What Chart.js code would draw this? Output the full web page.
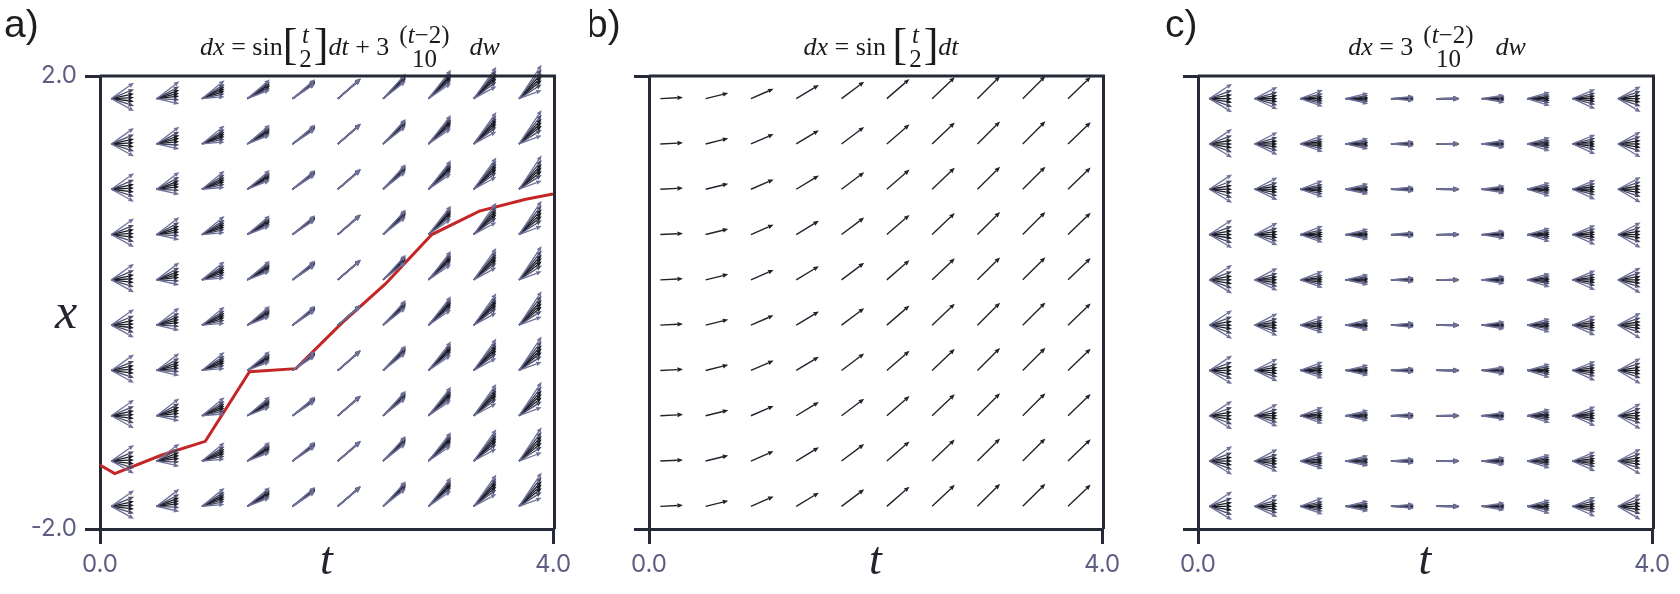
<!DOCTYPE html>
<html>
<head>
<meta charset="utf-8">
<script src="https://cdn.jsdelivr.net/npm/chart.js@4.4.1/dist/chart.umd.min.js"></script>
<style>
  html, body { margin: 0; padding: 0; background: #fff; }
  #wrap { position: relative; width: 1680px; height: 594px; overflow: hidden; }
  .panel { position: absolute; top: 0; height: 594px; }
</style>
</head>
<body>
<div id="wrap">
  <div class="panel" style="left:0;width:590px"><canvas id="chartA"></canvas></div>
  <div class="panel" style="left:590px;width:540px"><canvas id="chartB"></canvas></div>
  <div class="panel" style="left:1130px;width:550px"><canvas id="chartC"></canvas></div>
</div>
<script>
// grid of arrow tails (t, x)
const tGrid = [0.1, 0.5, 0.9, 1.3, 1.7, 2.1, 2.5, 2.9, 3.3, 3.7];
const xGrid = [-1.8, -1.4, -1.0, -0.6, -0.2, 0.2, 0.6, 1.0, 1.4, 1.8];
const stepDt = 0.2;
// drift sin(t/2) and diffusion 3(t-2)/10 read per column
const drift = [0.05, 0.247, 0.435, 0.605, 0.751, 0.867, 0.949, 0.992, 0.997, 0.961];
const diffusion = [-0.57, -0.45, -0.33, -0.21, -0.09, 0.03, 0.15, 0.27, 0.39, 0.51];
// noise increments drawn at every grid point
const dWSamples = [-0.23, -0.13, -0.06, 0.0, 0.06, 0.13, 0.21];
// sample path (red line) in panel a
const pathT = [0.0, 0.13, 0.54, 0.93, 1.32, 1.73, 2.13, 2.52, 2.93, 3.35, 3.76, 4.0];
const pathX = [-1.435, -1.511, -1.349, -1.226, -0.612, -0.584, -0.186, 0.164, 0.600, 0.807, 0.911, 0.959];
const xTicks = [0, 4];
const yTicks = [-2, 2];

const axisColor = '#262a36';
const tickColor = '#5d5e82';
const serif = '"Liberation Serif", "DejaVu Serif", serif';
const MAIN = 26, FRAC = 25, BR = 44;

Chart.defaults.font.family = 'Inter';

function drawArrow(ctx, x0, y0, x1, y1, color, lw) {
  const dx = x1 - x0, dy = y1 - y0;
  const len = Math.hypot(dx, dy);
  const ux = dx / len, uy = dy / len;
  const hl = 5.5, hw = 2.3;
  const bx = x1 - ux * hl, by = y1 - uy * hl;
  ctx.strokeStyle = color;
  ctx.fillStyle = color;
  ctx.lineWidth = lw;
  ctx.beginPath();
  ctx.moveTo(x0, y0);
  ctx.lineTo(bx, by);
  ctx.stroke();
  ctx.beginPath();
  ctx.moveTo(x1, y1);
  ctx.lineTo(bx - uy * hw, by + ux * hw);
  ctx.lineTo(bx + uy * hw, by - ux * hw);
  ctx.closePath();
  ctx.fill();
}

function fontStr(it, size) { return (it ? 'italic ' : '') + size + 'px ' + serif; }

function segWidth(ctx, segs, size) {
  let w = 0;
  for (const [s, it] of segs) { ctx.font = fontStr(it, size); w += ctx.measureText(s).width; }
  return w;
}
function drawSegs(ctx, segs, size, x, y) {
  for (const [s, it] of segs) {
    ctx.font = fontStr(it, size);
    ctx.fillText(s, x, y);
    x += ctx.measureText(s).width;
  }
}
function itemWidth(ctx, item) {
  if (item.gap) return item.gap;
  if (item.br) { ctx.font = fontStr(false, BR); return ctx.measureText(item.br).width; }
  if (item.num) return Math.max(segWidth(ctx, item.num, FRAC), segWidth(ctx, item.den, FRAC)) + 4;
  return segWidth(ctx, item.segs, MAIN);
}
function drawFormula(ctx, items, cx) {
  const widths = items.map(it => itemWidth(ctx, it));
  let x = cx - widths.reduce((a, b) => a + b, 0) / 2;
  ctx.fillStyle = '#1b1b1f';
  ctx.textAlign = 'left';
  ctx.textBaseline = 'alphabetic';
  items.forEach((item, i) => {
    const w = widths[i];
    if (item.br) {
      ctx.font = fontStr(false, BR);
      ctx.fillText(item.br, x, 59);
    } else if (item.num) {
      const nw = segWidth(ctx, item.num, FRAC), dw = segWidth(ctx, item.den, FRAC);
      drawSegs(ctx, item.num, FRAC, x + (w - nw) / 2, 43);
      drawSegs(ctx, item.den, FRAC, x + (w - dw) / 2, 67);
    } else if (item.segs) {
      drawSegs(ctx, item.segs, MAIN, x, 55);
    }
    x += w;
  });
}

const formulas = {
  a: [
    { segs: [['dx', true], [' = sin', false]] },
    { br: '[' }, { num: [['t', true]], den: [['2', false]] }, { br: ']' },
    { segs: [['dt', true], [' + 3', false]] }, { gap: 8 },
    { num: [['(', false], ['t', true], ['\u22122)', false]], den: [['10', false]] },
    { gap: 18 }, { segs: [['dw', true]] }
  ],
  b: [
    { segs: [['dx', true], [' = sin ', false]] },
    { br: '[' }, { num: [['t', true]], den: [['2', false]] }, { br: ']' },
    { segs: [['dt', true]] }
  ],
  c: [
    { segs: [['dx', true], [' = 3', false]] }, { gap: 8 },
    { num: [['(', false], ['t', true], ['\u22122)', false]], den: [['10', false]] },
    { gap: 20 }, { segs: [['dw', true]] }
  ]
};

// colours of the noise samples: outer light, inner dark
const sampleStyle = ['#6f7199', '#484a68', '#1c1c28', '#1c1c28', '#1c1c28', '#484a68', '#6f7199'];
const drawOrder = [2, 3, 4, 1, 5, 0, 6];

const quiverPlugin = {
  id: 'quiver',
  afterDatasetsDraw(chart) {
    const o = chart.options.plugins.quiver;
    const ctx = chart.ctx, xs = chart.scales.x, ys = chart.scales.y;
    const { left, right, top, bottom } = chart.chartArea;
    ctx.save();
    tGrid.forEach((t, i) => {
      xGrid.forEach(xv => {
        const px0 = xs.getPixelForValue(t), py0 = ys.getPixelForValue(xv);
        const px1 = xs.getPixelForValue(t + stepDt);
        if (o.mode === 'b') {
          drawArrow(ctx, px0, py0, px1, ys.getPixelForValue(xv + stepDt * drift[i]), '#20232c', 1.4);
          return;
        }
        const base = o.mode === 'a' ? stepDt * drift[i] : 0;
        drawOrder.forEach(k => {
          const py1 = ys.getPixelForValue(xv + base + diffusion[i] * dWSamples[k]);
          drawArrow(ctx, px0, py0, px1, py1, sampleStyle[k], 1.3);
        });
      });
    });
    // top and right spines
    ctx.strokeStyle = axisColor;
    ctx.lineWidth = 3;
    ctx.beginPath();
    ctx.moveTo(left, top);
    ctx.lineTo(right + 1.5, top);
    ctx.lineTo(right + 1.5, bottom);
    ctx.stroke();
    ctx.restore();
  },
  afterDraw(chart) {
    const o = chart.options.plugins.quiver;
    const ctx = chart.ctx;
    const cx = (chart.chartArea.left + chart.chartArea.right) / 2;
    ctx.save();
    ctx.fillStyle = '#1e1e22';
    ctx.font = '39px "Liberation Sans", Arial, sans-serif';
    ctx.textAlign = 'left';
    ctx.textBaseline = 'alphabetic';
    ctx.fillText(o.mode + ')', o.letterX, 37);
    ctx.fillStyle = '#23252e';
    ctx.textAlign = 'center';
    ctx.font = 'italic 46px ' + serif;
    ctx.fillText('t', cx, 574);
    if (o.mode === 'a') {
      ctx.font = 'italic 50px ' + serif;
      ctx.fillText('x', 66, 328);
    }
    drawFormula(ctx, formulas[o.mode], o.titleX);
    ctx.restore();
  }
};

function makeScales(yWidth, showY) {
  return {
    x: {
      type: 'linear', min: 0, max: 4,
      afterBuildTicks: s => { s.ticks = xTicks.map(v => ({ value: v })); },
      afterFit: s => { s.height = 594 - 529; },
      ticks: { callback: v => v.toFixed(1), font: { size: 24 }, color: tickColor, padding: 6, maxRotation: 0, autoSkip: false },
      grid: { drawOnChartArea: false, drawTicks: true, tickLength: 15, tickWidth: 3, lineWidth: 3, tickColor: axisColor, color: axisColor },
      border: { display: true, width: 3, color: axisColor }
    },
    y: {
      type: 'linear', min: -2, max: 2,
      afterBuildTicks: s => { s.ticks = yTicks.map(v => ({ value: v })); },
      afterFit: s => { s.width = yWidth; },
      ticks: { display: showY, callback: v => v.toFixed(1), font: { size: 24 }, color: tickColor, padding: 8, autoSkip: false },
      grid: { drawOnChartArea: false, drawTicks: true, tickLength: 15, tickWidth: 3, lineWidth: 3, tickColor: axisColor, color: axisColor },
      border: { display: true, width: 3, color: axisColor }
    }
  };
}

function makeChart(id, mode, yWidth, padRight, letterX, titleX, datasets) {
  return new Chart(document.getElementById(id), {
    type: 'line',
    data: { datasets },
    options: {
      responsive: true,
      maintainAspectRatio: false,
      devicePixelRatio: 1,
      animation: false,
      events: [],
      layout: { autoPadding: false, padding: { top: 76, right: padRight, left: 0, bottom: 0 } },
      scales: makeScales(yWidth, mode === 'a'),
      plugins: {
        legend: { display: false },
        tooltip: { enabled: false },
        quiver: { mode, letterX, titleX }
      }
    },
    plugins: [quiverPlugin]
  });
}

makeChart('chartA', 'a', 100, 37, 4, 350, [{
  data: pathT.map((t, i) => ({ x: t, y: pathX[i] })),
  borderColor: '#c42626',
  borderWidth: 3,
  pointRadius: 0,
  tension: 0,
  fill: false
}]);
makeChart('chartB', 'b', 59, 28, -4, 291, []);
makeChart('chartC', 'c', 68, 28, 35, 307, []);
</script>
</body>
</html>
